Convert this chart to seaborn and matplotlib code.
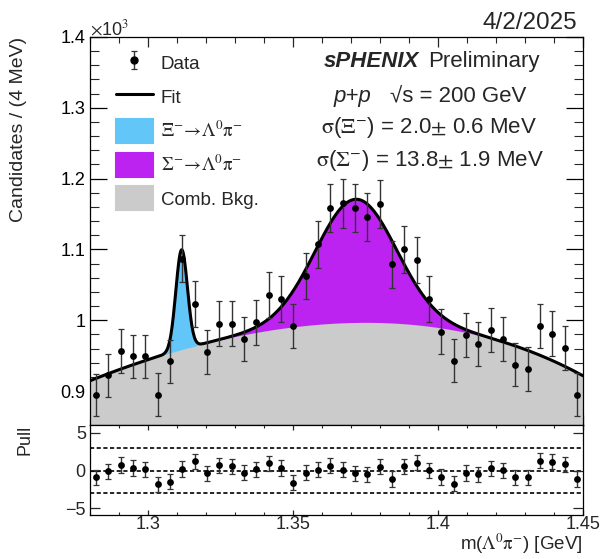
import numpy as np
import matplotlib
matplotlib.use("Agg")
import matplotlib.pyplot as plt
import seaborn as sns
from matplotlib.lines import Line2D
from matplotlib.patches import Patch
from matplotlib.ticker import MultipleLocator, FuncFormatter

# ---- histogram binning of m(Lambda pi) [GeV] ----
mass_lo, mass_hi, n_bins = 1.28, 1.45, 40

# candidates per bin
counts = [894, 922, 956, 949, 949, 895, 942, 1087, 1023, 955,
          995, 995, 973, 997, 1036, 1030, 992, 1062, 1107, 1158,
          1165, 1159, 1146, 1164, 1079, 1100, 1085, 1030, 984, 943,
          979, 967, 986, 973, 937, 931, 992, 981, 961, 895]

# (data - fit) / error per bin
pulls = [-0.88, -0.09, 0.75, 0.35, 0.18, -1.77, -1.46, 0.22, 1.24, -0.35,
         0.71, 0.58, -0.27, 0.18, 0.97, 0.35, -1.59, -0.25, 0.13, 0.68,
         0.13, -0.33, -0.49, 0.53, -1.10, 0.58, 1.06, 0.04, -0.84, -1.73,
         -0.31, -0.49, 0.31, 0.04, -0.88, -0.88, 1.33, 1.19, 0.84, -1.10]

# ---- fit model (in units of 10^3 candidates) ----
bkg_knots_x = [1.28, 1.30, 1.32, 1.34, 1.36, 1.38, 1.40, 1.42, 1.435, 1.45]
bkg_knots_y = [0.9145, 0.944, 0.968, 0.985, 0.994, 0.9958, 0.9906, 0.974, 0.948, 0.9225]
xi_mean, xi_sigma, xi_amp = 1.3116, 0.0020, 0.141          # sigma(Xi-)  = 2.0 MeV
sig_mean, sig_sigma, sig_amp = 1.3717, 0.0138, 0.174       # sigma(Sigma-) = 13.8 MeV

c_xi = "#62c6f8"
c_sig = "#bc23f0"
c_bkg = "#cbcbcb"

sns.set_theme(style="ticks")
plt.rcParams["font.family"] = ["Liberation Sans", "DejaVu Sans"]
plt.rcParams["mathtext.fontset"] = "stix"
plt.rcParams["axes.linewidth"] = 0.9
FS = 13          # tick labels
FS_LEG = 13.5    # legend entries
FS_HEAD = 16     # header / fit summary

W, H = 603, 559
fig = plt.figure(figsize=(W / 100, H / 100), dpi=100)
fig.patch.set_facecolor("white")


def box(l, t, r, b):
    return [l / W, 1 - b / H, (r - l) / W, (b - t) / H]


ax = fig.add_axes(box(90, 37, 583, 425))
axp = fig.add_axes(box(90, 425, 583, 515), sharex=ax)

edges = np.linspace(mass_lo, mass_hi, n_bins + 1)
centers = 0.5 * (edges[:-1] + edges[1:])
y = np.asarray(counts) / 1000.0
yerr = np.sqrt(np.asarray(counts)) / 1000.0

xf = np.linspace(mass_lo, mass_hi, 800)
bkg = np.polyval(np.polyfit(bkg_knots_x, bkg_knots_y, 4), xf)
g_xi = xi_amp * np.exp(-0.5 * ((xf - xi_mean) / xi_sigma) ** 2)
g_sig = sig_amp * np.exp(-0.5 * ((xf - sig_mean) / sig_sigma) ** 2)
total = bkg + g_xi + g_sig

# stacked fit components
ax.fill_between(xf, 0, bkg, color=c_bkg, lw=0)
ax.fill_between(xf, bkg, bkg + g_xi, color=c_xi, lw=0)
ax.fill_between(xf, bkg, bkg + g_sig, color=c_sig, lw=0)
sns.lineplot(x=xf, y=total, ax=ax, color="black", lw=2.2, zorder=4)

# data
eb = ax.errorbar(centers, y, yerr=yerr, fmt="none", ecolor="#333333",
                 elinewidth=1.0, capsize=2.2, capthick=0.9, zorder=5)
sns.scatterplot(x=centers, y=y, ax=ax, color="black", s=24, linewidth=0, zorder=6)

ax.set_xlim(mass_lo, mass_hi)
ax.set_ylim(0.852, 1.4)
ax.set_xlabel("")
ax.set_ylabel("")
ax.yaxis.set_major_locator(MultipleLocator(0.1))
ax.yaxis.set_minor_locator(MultipleLocator(0.02))
ax.yaxis.set_major_formatter(FuncFormatter(lambda v, p: f"{v:g}"))
ax.xaxis.set_major_locator(MultipleLocator(0.02))
ax.xaxis.set_minor_locator(MultipleLocator(0.005))
ax.tick_params(axis="y", which="major", direction="in", length=12, width=0.9,
               left=True, right=True, labelsize=FS, pad=3, colors="black")
ax.tick_params(axis="y", which="minor", direction="in", length=6.5, width=0.8,
               left=True, right=True)
ax.tick_params(axis="x", which="major", direction="in", length=7.5, width=0.9,
               top=True, bottom=True, labelbottom=False)
ax.tick_params(axis="x", which="minor", direction="in", length=4.6, width=0.8,
               top=True, bottom=True)
for s in ax.spines.values():
    s.set_color("black")

# pull panel
for lvl in (-3, 0, 3):
    axp.axhline(lvl, color="black", lw=1.2, ls=(0, (2.5, 1.5)), zorder=1)
axp.errorbar(centers, pulls, yerr=np.ones(n_bins), fmt="none", ecolor="#333333",
             elinewidth=1.0, capsize=2.2, capthick=0.9, zorder=3)
sns.scatterplot(x=centers, y=pulls, ax=axp, color="black", s=24, linewidth=0, zorder=4)
axp.set_ylim(-5.86, 6.04)
axp.set_xlim(mass_lo, mass_hi)
axp.set_ylabel("")
axp.set_xlabel("")
axp.yaxis.set_major_locator(MultipleLocator(5))
axp.yaxis.set_major_formatter(FuncFormatter(lambda v, p: f"{v:g}".replace("-", "\u2212")))
axp.xaxis.set_major_locator(MultipleLocator(0.05))
axp.xaxis.set_minor_locator(MultipleLocator(0.01))
axp.xaxis.set_major_formatter(FuncFormatter(lambda v, p: f"{v:g}"))
axp.tick_params(axis="y", which="major", direction="in", length=7.2, width=0.9,
                left=True, right=True, labelsize=FS, pad=3)
axp.tick_params(axis="x", which="major", direction="in", length=3.6, width=0.9,
                top=True, bottom=True, labelsize=FS, pad=0.5, labelbottom=True)
axp.tick_params(axis="x", which="minor", direction="in", length=2.2, width=0.8,
                top=True, bottom=True)
for s in axp.spines.values():
    s.set_color("black")


def ftext(xp, yp, s, **kw):
    return fig.text(xp / W, 1 - yp / H, s, **kw)


# axis titles
ftext(19, 37, "Candidates / (4 MeV)", rotation=90, ha="center", va="top", fontsize=14)
ftext(25, 425, "Pull", rotation=90, ha="center", va="top", fontsize=FS)
ftext(582, 550, r"m($\mathrm{\Lambda^{0}\pi^{-}}$) [GeV]", ha="right", va="baseline", fontsize=13.5)
ftext(90, 35, r"$\times$10$^{3}$", ha="left", va="baseline", fontsize=FS)

# header and fit summary
ftext(577, 29, "4/2/2025", ha="right", va="baseline", fontsize=17.5)
ftext(419, 67, "sPHENIX", ha="right", va="baseline", fontsize=FS_HEAD,
      fontweight="bold", fontstyle="italic")
ftext(428, 67, "Preliminary", ha="left", va="baseline", fontsize=FS_HEAD)
ftext(352, 102, "p+p", ha="center", va="baseline", fontsize=FS_HEAD, fontstyle="italic")
ftext(390, 102, "\u221as = 200 GeV", ha="left", va="baseline", fontsize=FS_HEAD)
ftext(429, 133, r"$\mathrm{\sigma}$($\Xi^{-}$) = 2.0$\pm$ 0.6 MeV",
      ha="center", va="baseline", fontsize=FS_HEAD)
ftext(430, 166, r"$\mathrm{\sigma}$($\Sigma^{-}$) = 13.8$\pm$ 1.9 MeV",
      ha="center", va="baseline", fontsize=FS_HEAD)

# legend
marker_h = Line2D([], [], marker="o", color="black", ls="none", ms=5)
handles = [(eb, marker_h),
           Line2D([], [], color="black", lw=2.2),
           Patch(facecolor=c_xi, edgecolor=c_xi, lw=1.5, joinstyle="round"),
           Patch(facecolor=c_sig, edgecolor=c_sig, lw=1.5, joinstyle="round"),
           Patch(facecolor=c_bkg, edgecolor=c_bkg, lw=1.5, joinstyle="round")]
labels = ["Data", "Fit",
          r"$\Xi^{-}\!\rightarrow\!\Lambda^{0}\mathrm{\pi}^{-}$",
          r"$\Sigma^{-}\!\rightarrow\!\Lambda^{0}\mathrm{\pi}^{-}$",
          "Comb. Bkg."]
leg = ax.legend(handles, labels, loc="upper left",
                bbox_to_anchor=(116 / W, 1 - 51 / H), bbox_transform=fig.transFigure,
                frameon=False, fontsize=FS_LEG, borderpad=0, borderaxespad=0,
                handlelength=1.95, handleheight=1.6, handletextpad=0.45,
                labelspacing=0.52)

fig.savefig("out.png", dpi=100)
